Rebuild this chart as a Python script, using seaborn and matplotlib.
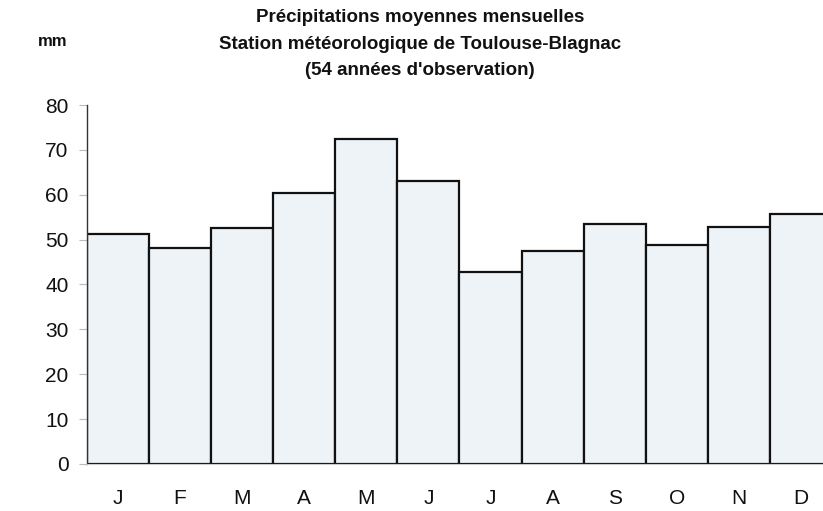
import matplotlib
matplotlib.use('Agg')
import matplotlib.pyplot as plt
import seaborn as sns
import pandas as pd

# Données : précipitations moyennes mensuelles (mm)
mois = ['Jan', 'Fev', 'Mar', 'Avr', 'Mai', 'Juin', 'Juil', 'Aou', 'Sep', 'Oct', 'Nov', 'Dec']
etiquettes = ['J', 'F', 'M', 'A', 'M', 'J', 'J', 'A', 'S', 'O', 'N', 'D']
precip = [51.3, 48.1, 52.6, 60.5, 72.4, 63.0, 42.7, 47.4, 53.5, 48.8, 52.9, 55.6]
yticks = [0, 10, 20, 30, 40, 50, 60, 70, 80]

df = pd.DataFrame({'mois': mois, 'mm': precip})

sns.set_style('white')
plt.rcParams['font.family'] = ['Liberation Sans', 'DejaVu Sans']
plt.rcParams['text.color'] = '#111111'
plt.rcParams['xtick.labelcolor'] = '#111111'
plt.rcParams['ytick.labelcolor'] = '#111111'

fig = plt.figure(figsize=(8.23, 5.11), dpi=100)
ax = fig.add_axes([0.1053, 0.092, 0.906, 0.7025])

sns.barplot(data=df, x='mois', y='mm', order=mois, color='#eef3f8',
            edgecolor='#111111', linewidth=1.6, width=1.0, saturation=1, ax=ax)

ax.set_xlim(-0.5, 11.5)
ax.set_ylim(0, 80)
ax.set_yticks(yticks)
ax.set_yticklabels([str(v) for v in yticks], fontsize=15)
ax.set_xticks([i for i in range(len(mois))])
ax.set_xticklabels(etiquettes, fontsize=15)
ax.set_xticks([i - 0.5 for i in range(len(mois) + 1)], minor=True)
ax.tick_params(axis='x', which='major', length=0, pad=18)
ax.tick_params(axis='x', which='minor', length=6, color='#cccccc', direction='out')
ax.tick_params(axis='y', length=6, color='#bbbbbb', direction='out', pad=7, left=True)
ax.set_xlabel('')
ax.set_ylabel('')

sns.despine(ax=ax, top=True, right=True)
ax.spines['left'].set_color('#333333')
ax.spines['left'].set_linewidth(1.0)
ax.spines['bottom'].set_color('#cccccc')

fig.text(0.51, 0.982, 'Précipitations moyennes mensuelles\n'
         'Station météorologique de Toulouse-Blagnac\n'
         '(54 années d\'observation)',
         ha='center', va='top', fontsize=13.5, fontweight='bold', linespacing=1.72)
fig.text(0.046, 0.918, 'mm', ha='left', va='center', fontsize=12, fontweight='bold')

fig.savefig('out.png', dpi=100)
